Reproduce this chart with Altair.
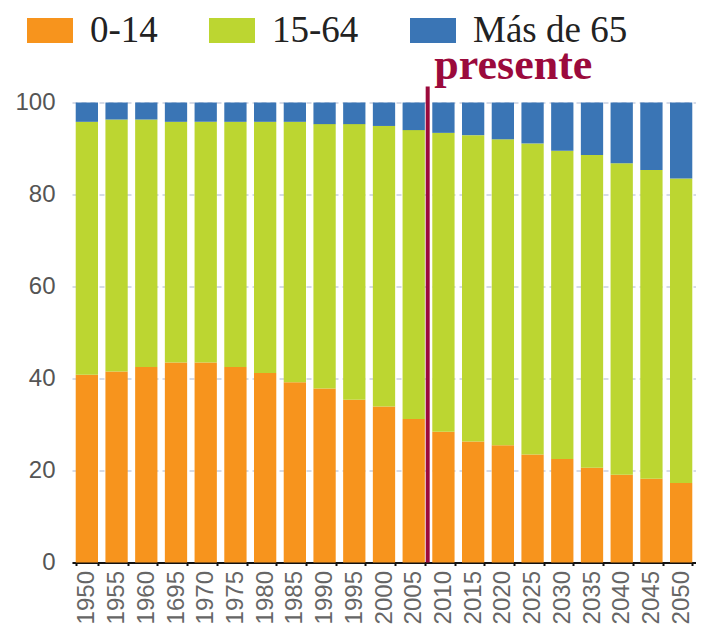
import altair as alt
import pandas as pd

years = ["1950", "1955", "1960", "1695", "1970", "1975", "1980", "1985", "1990", "1995", "2000",
         "2005", "2010", "2015", "2020", "2025", "2030", "2035", "2040", "2045", "2050"]
age_0_14 = [40.8, 41.5, 42.5, 43.5, 43.5, 42.5, 41.2, 39.2, 37.8, 35.4, 33.9,
            31.2, 28.4, 26.3, 25.5, 23.5, 22.5, 20.6, 19.1, 18.2, 17.3]
age_15_64 = [55.0, 54.8, 53.8, 52.3, 52.3, 53.3, 54.6, 56.6, 57.5, 59.9, 61.0,
             62.8, 65.0, 66.6, 66.5, 67.6, 67.0, 68.0, 67.7, 67.1, 66.2]
age_65 = [4.2, 3.7, 3.7, 4.2, 4.2, 4.2, 4.2, 4.2, 4.7, 4.7, 5.1,
          6.0, 6.6, 7.1, 8.0, 8.9, 10.5, 11.4, 13.2, 14.7, 16.5]
groups = ["0-14", "15-64", "Más de 65"]
colors = ["#F7941D", "#BCD631", "#3A75B5"]
present_year = "2010"
present_label = "presente"

rows = []
for i, y in enumerate(years):
    for k, (g, vals) in enumerate(zip(groups, [age_0_14, age_15_64, age_65])):
        rows.append({"year": y, "group": g, "value": vals[i], "ord": k})
df = pd.DataFrame(rows)

xscale = alt.Scale(domain=years, range=[0, 624], paddingInner=0.25, paddingOuter=0.125)

bars = alt.Chart(df).mark_bar().encode(
    x=alt.X("year:N", sort=None, scale=xscale,
            axis=alt.Axis(title=None, labelAngle=270, labelFont="Liberation Sans",
                          labelFontSize=24, labelColor="#666", labelPadding=5,
                          domainColor="#111", domainWidth=2, tickColor="#111",
                          tickSize=3, tickWidth=2, tickBand="extent", grid=False)),
    y=alt.Y("value:Q", stack="zero",
            scale=alt.Scale(domain=[0, 100], nice=False),
            axis=alt.Axis(title=None, values=[0, 20, 40, 60, 80, 100], domain=False,
                          ticks=False, labelFont="Liberation Sans", labelFontSize=24,
                          labelColor="#555", labelPadding=17, grid=True,
                          gridColor="#c9cfe0", gridDash=[5, 4], gridWidth=1.5)),
    color=alt.Color("group:N", scale=alt.Scale(domain=groups, range=colors),
                    legend=alt.Legend(title=None, orient="none", direction="horizontal",
                                      legendX=-45, legendY=-95,
                                      symbolType="M-1,-0.54H1V0.54H-1Z", symbolSize=2116,
                                      symbolStrokeWidth=0, symbolOpacity=1,
                                      labelFont="Liberation Serif", labelFontSize=37,
                                      labelColor="#222", labelOffset=17,
                                      columnPadding=51, padding=0, labelLimit=400)),
    order=alt.Order("ord:Q", sort="ascending"),
)

pdf = pd.DataFrame({"year": [present_year], "label": [present_label]})
rule = alt.Chart(pdf).mark_rule(color="#9B0A3C", strokeWidth=4, xOffset=-4.6).encode(
    x=alt.X("year:N", sort=None, scale=xscale, bandPosition=0),
    y=alt.value(-16),
    y2=alt.value(460),
)
text = alt.Chart(pdf).mark_text(color="#9B0A3C", font="Liberation Serif", fontWeight="bold",
                                fontSize=44, align="left", baseline="alphabetic",
                                dx=2).encode(
    x=alt.X("year:N", sort=None, scale=xscale, bandPosition=0),
    y=alt.value(-24),
    text="label:N",
)

chart = alt.layer(bars, rule, text).properties(
    width=624, height=460,
    padding={"left": 64, "top": 94.5, "right": 0, "bottom": 64},
    autosize="none",
).configure_view(stroke=None)

chart.save("out.html", embed_options={"renderer": "svg", "actions": False})
